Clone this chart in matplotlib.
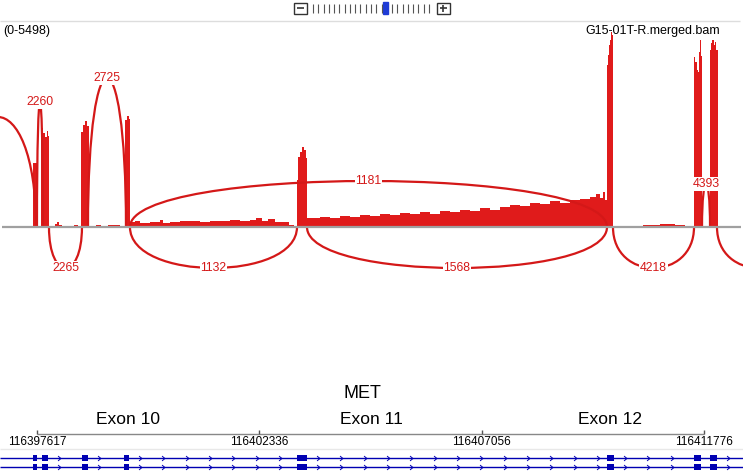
"""
Sashimi plot of MET exon 10-12 region (G15-01T-R.merged.bam)
"""

import numpy as np
import matplotlib
matplotlib.use('Agg')
import matplotlib.pyplot as plt
from matplotlib.path import Path
from matplotlib.patches import PathPatch, Rectangle

plt.rcParams['font.family'] = ['Liberation Sans', 'DejaVu Sans']

W, H = 743, 472
REGION_START = 116397617
VIEW = (-785, 14988)          # bp offsets at left / right edge of the view
DATA_MAX = 5498
TRACK_NAME = 'G15-01T-R.merged.bam'
GENE = 'MET'

# coverage, step profile: bp offset from REGION_START, depth
cov_offset = [-785, -85, 0, 85, 127, 170, 212, 234, 255, 382, 425, 467, 531,
              786, 870, 934, 977, 1019, 1062, 1104, 1253, 1359, 1507, 1762,
              1868, 1911, 1953, 1974, 2081, 2187, 2399, 2611, 2675, 2824,
              3036, 3248, 3460, 3673, 3885, 4097, 4310, 4522, 4649, 4777,
              4904, 5053, 5223, 5350, 5456, 5520, 5541, 5583, 5626, 5668,
              5711, 5732, 6008, 6220, 6433, 6645, 6857, 7070, 7282, 7494,
              7706, 7919, 8131, 8343, 8556, 8768, 8980, 9192, 9405, 9617,
              9829, 10042, 10254, 10466, 10679, 10891, 11103, 11315, 11528,
              11740, 11868, 11952, 12016, 12058, 12101, 12122, 12143, 12164,
              12186, 12207, 12228, 12865, 13226, 13544, 13757, 13863, 13948,
              13969, 14012, 14033, 14054, 14075, 14097, 14118, 14288, 14309,
              14330, 14373, 14394, 14415, 14458, 14988]
cov_depth = [0, 1805, 0, 2792, 2651, 2538, 2707, 2566, 0, 85, 141, 56, 0,
             56, 0, 2679, 2876, 2989, 2848, 0, 56, 0, 56, 0,
             3017, 3130, 3046, 141, 169, 113, 141, 197, 113, 141,
             169, 169, 141, 169, 169, 197, 169, 197, 254, 169,
             226, 141, 141, 56, 28, 1325, 1974, 2115, 2256, 2171,
             1946, 254, 282, 254, 310, 282, 338, 310, 367, 338,
             395, 367, 423, 367, 451, 423, 479, 451, 536, 479,
             564, 620, 592, 677, 649, 733, 677, 761, 790,
             846, 931, 818, 987, 761, 4568, 4850, 5132, 5273,
             5498, 5414, 0, 56, 85, 56, 28, 0, 4794,
             4653, 4427, 4371, 4935, 5273, 4822, 0, 4991, 5189,
             5273, 5132, 5217, 4991, 0, 0]

# splice junctions (bp offsets); None = label outside the view
junc_start = [-1635, 0, 1083, 1974, 14118, 255, 1974, 5732, 12228, 14436]
junc_end = [-21, 127, 1889, 12101, 14288, 955, 5520, 12101, 13948, 16198]
junc_count = [None, 2260, 2725, 1181, 4393, 2265, 1132, 1568, 4218, None]
junc_side = [1, 1, 1, 1, 1, -1, -1, -1, -1, -1]
junc_height = [110, 125, 149, 46, 43, 41, 41, 41, 41, 41]   # arc height, px

# gene model
exon_start = [-85, 106, 955, 1847, 5520, 12101, 13948, 14288]
exon_end = [0, 234, 1083, 1953, 5732, 12249, 14097, 14436]
exon_names = ['Exon 10', 'Exon 11', 'Exon 12']
exon_label_pos = [1932, 7091, 12164]
ruler_ticks = [116397617, 116402336, 116407056, 116411776]

RED = '#E01B1B'
ARC_RED = '#D41818'
BLUE = '#0000B2'
BASE_Y = 227

fig = plt.figure(figsize=(W / 100, H / 100), dpi=100)

# coverage track
ax_cov = fig.add_axes([0, (H - BASE_Y) / H, 1, (BASE_Y - 32) / H], zorder=1)
ax_cov.set_xlim(*VIEW)
ax_cov.set_ylim(0, DATA_MAX)
ax_cov.axis('off')
ax_cov.fill_between(cov_offset, cov_depth, step='post', color=RED, lw=0)

# genomic axes: x in bp offset, y in pixel rows
ax = fig.add_axes([0, 0, 1, 1], zorder=2)
ax.set_xlim(*VIEW)
ax.set_ylim(H, 0)
ax.axis('off')

# pixel axes for the decorations
ax_px = fig.add_axes([0, 0, 1, 1], zorder=3)
ax_px.set_xlim(0, W)
ax_px.set_ylim(H, 0)
ax_px.axis('off')

ax_px.hlines(BASE_Y, 2, 741, color='#A0A0A0', lw=1.6, zorder=1)

# junction arcs
for s, e, c, side, h in zip(junc_start, junc_end, junc_count, junc_side, junc_height):
    ctrl = BASE_Y - side * h / 0.75
    path = Path([(s, BASE_Y), (s, ctrl), (e, ctrl), (e, BASE_Y)],
                [Path.MOVETO, Path.CURVE4, Path.CURVE4, Path.CURVE4])
    ax.add_patch(PathPatch(path, fc='none', ec=ARC_RED, lw=1.6, clip_on=True))
    if c is not None:
        ax.text((s + e) / 2, BASE_Y - side * h, str(c), ha='center', va='center',
                fontsize=8.8, color=ARC_RED,
                bbox=dict(fc='white', ec='none', pad=0.4))

# header
ax_px.hlines(20.5, 0, 740, color='#DDDDDD', lw=1)
ax_px.text(3, 31, '(0-%d)' % DATA_MAX, ha='left', va='center', fontsize=9)
ax_px.text(720, 31, TRACK_NAME, ha='right', va='center', fontsize=9)

# zoom widget
ax_px.add_patch(Rectangle((293.5, 2.5), 13, 11, fill=False, ec='#333333', lw=1))
ax_px.hlines(8, 296.5, 303.5, color='#333333', lw=1.2)
ax_px.add_patch(Rectangle((436.5, 2.5), 13, 11, fill=False, ec='#333333', lw=1))
ax_px.hlines(8, 439.5, 446.5, color='#333333', lw=1.2)
ax_px.vlines(443, 4.5, 11.5, color='#333333', lw=1.2)
zx = 313 + 5.27 * np.arange(23)
zx = zx[np.abs(zx - 385.5) > 3]
ax_px.vlines(zx, 4, 12.5, color='#555555', lw=0.8)
ax_px.add_patch(Rectangle((383, 2), 5, 12, color='#1F3CD6'))

# gene name and exon labels
ax.text(6900, 393, GENE, ha='center', va='center', fontsize=13)
for name, pos in zip(exon_names, exon_label_pos):
    ax.text(pos, 420, name, ha='center', va='center', fontsize=12.5)

# ruler
ticks_off = [t - REGION_START for t in ruler_ticks]
ax.hlines(433.5, ticks_off[0], ticks_off[-1], color='#888888', lw=1)
ax.vlines(ticks_off, 429.5, 433.5, color='#555555', lw=1)
for t, off in zip(ruler_ticks, ticks_off):
    ax.text(off, 442, str(t), ha='center', va='center', fontsize=8.5)
ax_px.hlines(449, 0, W, color='#E8E8E8', lw=1)

# transcripts
chevron = Path([(-0.6, 1), (0.6, 0), (-0.6, -1)],
               [Path.MOVETO, Path.LINETO, Path.LINETO])
arrow_x = []
for i in range(len(exon_start)):
    nxt = exon_start[i + 1] - 100 if i + 1 < len(exon_start) else VIEW[1]
    arrow_x.extend(np.arange(exon_end[i] + 234, nxt, 495))

for y in [458, 467]:
    ax.hlines(y, VIEW[0], VIEW[1], color=BLUE, lw=1)
    for s, e in zip(exon_start, exon_end):
        ax.add_patch(Rectangle((s, y - 3), e - s, 6, color=BLUE, lw=0))
    ax.plot(arrow_x, [y] * len(arrow_x), ls='none', marker=chevron, ms=3.5,
            mec=BLUE, mfc='none', mew=0.7)

fig.savefig('out.png', dpi=100)
